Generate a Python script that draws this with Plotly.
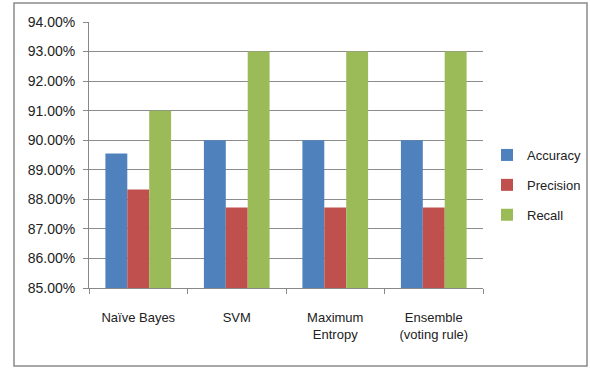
import plotly.graph_objects as go

categories = ["Naïve Bayes", "SVM", "Maximum<br>Entropy", "Ensemble<br>(voting rule)"]
accuracy = [89.55, 90.0, 90.0, 90.0]
precision = [88.33, 87.72, 87.72, 87.72]
recall = [91.0, 93.0, 93.0, 93.0]
series_names = ["Accuracy", "Precision", "Recall"]
colors = ["#4F81BD", "#C0504D", "#9BBB59"]
y_ticks = [85, 86, 87, 88, 89, 90, 91, 92, 93, 94]

FONT = "Liberation Sans, Arial, sans-serif"

fig = go.Figure()
for name, vals, col in zip(series_names, [accuracy, precision, recall], colors):
    fig.add_trace(go.Bar(
        x=categories, y=vals, name=name, marker_color=col,
        marker_line_width=0, legendgroup=name,
    ))

L, R, T, B = 89, 107, 22, 80
W, H = 590, 368
pw, ph = W - L - R, H - T - B

fig.update_layout(
    width=W, height=H,
    margin=dict(l=L, r=R, t=T, b=B, autoexpand=False),
    barmode="group", bargap=0.333, bargroupgap=0,
    plot_bgcolor="white", paper_bgcolor="white",
    font=dict(family=FONT, size=13, color="#333333"),
    showlegend=True,
    legend=dict(x=(487 - L) / pw, y=(H - B - 185) / ph, xanchor="left", yanchor="middle",
                font=dict(size=13, family=FONT, color="#222222"), tracegroupgap=10,
                itemwidth=30, bgcolor="rgba(0,0,0,0)"),
    xaxis=dict(showline=True, linecolor="#888888", linewidth=1, ticks="outside",
               tickson="boundaries", ticklen=5, tickcolor="#888888",
               tickfont=dict(size=13, family=FONT, color="#222222"), ticklabelstandoff=17),
    yaxis=dict(range=[85, 94], tickvals=y_ticks,
               ticktext=[f"{v:.2f}%" for v in y_ticks],
               showgrid=True, gridcolor="#8c8c8c", gridwidth=1,
               showline=True, linecolor="#888888", ticks="outside", ticklen=5,
               tickcolor="#888888", zeroline=False, ticklabelstandoff=5,
               tickfont=dict(size=14, family=FONT, color="#222222")),
    shapes=[dict(type="rect", xref="paper", yref="paper",
                 x0=(14 - L) / pw, x1=(587 - L) / pw,
                 y0=(H - B - 366) / ph, y1=(H - B - 3) / ph,
                 line=dict(color="#8a8a8a", width=1.5), layer="below")],
)

fig.write_html("out.html")
